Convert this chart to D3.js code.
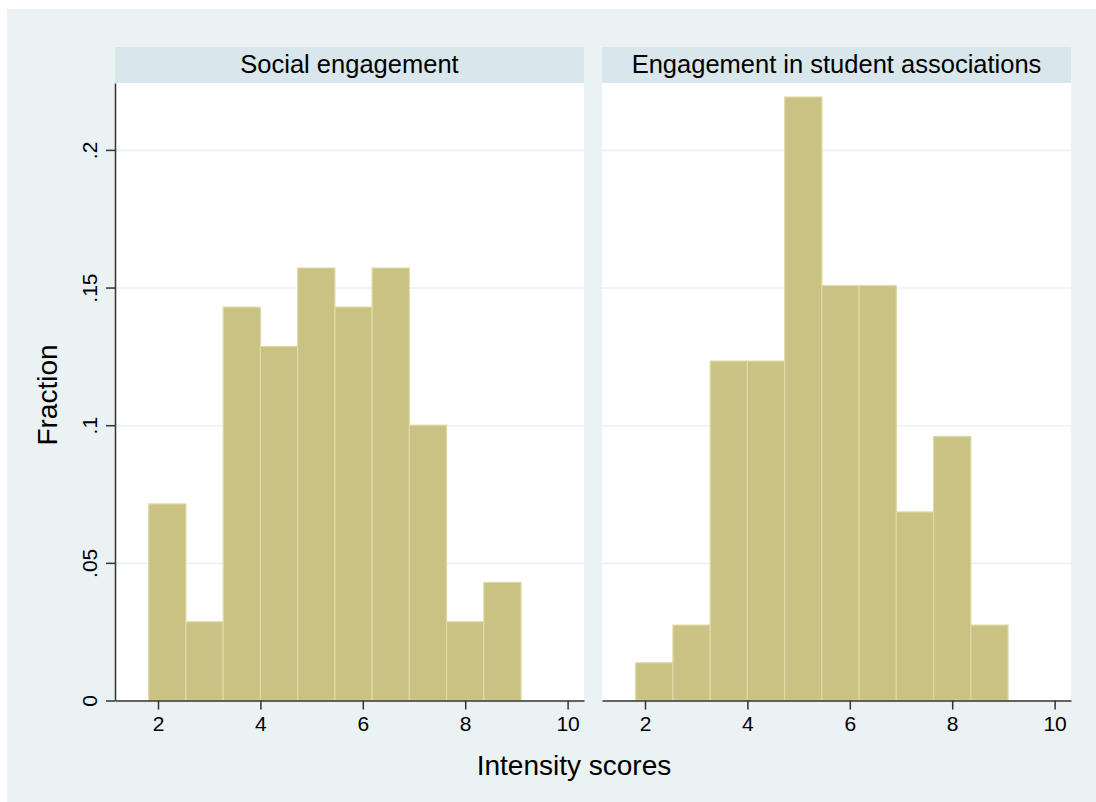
<!DOCTYPE html>
<html>
<head>
<meta charset="utf-8">
<script src="https://cdn.jsdelivr.net/npm/d3@7"></script>
<style>
  html, body { margin: 0; padding: 0; background: #ffffff; }
  svg { display: block; font-family: "Liberation Sans", Arial, sans-serif; }
</style>
</head>
<body>
<svg id="chart" width="1096" height="802"></svg>
<script>
// ---- Data ----
const binEdges = [1.818, 2.545, 3.273, 4.0, 4.727, 5.455, 6.182, 6.909, 7.636, 8.364, 9.091];
const panelTitles = ["Social engagement", "Engagement in student associations"];
const socialFraction = [0.0714, 0.0286, 0.1429, 0.1286, 0.1571, 0.1429, 0.1571, 0.1000, 0.0286, 0.0429];
const assocFraction = [0.0137, 0.0274, 0.1233, 0.1233, 0.2192, 0.1507, 0.1507, 0.0685, 0.0959, 0.0274];
const xTicks = [2, 4, 6, 8, 10];
const yTicks = [0, 0.05, 0.1, 0.15, 0.2];
const yTickLabels = ["0", ".05", ".1", ".15", ".2"];
const xTitle = "Intensity scores";
const yTitle = "Fraction";

// ---- Layout ----
const svg = d3.select("#chart");
const bgColor = "#EAF2F3";
const headerColor = "#D9E6EB";
const barFill = "#C9C282";
const barStroke = "#DEDAA8";
const axisColor = "#333333";
const plotTop = 83, plotBottom = 700.5, headerTop = 47;
const panels = [
  { x0: 115, x1: 584, values: socialFraction, title: panelTitles[0], yAxis: true },
  { x0: 602, x1: 1071, values: assocFraction, title: panelTitles[1], yAxis: false }
];

svg.append("rect").attr("x", 7).attr("y", 9).attr("width", 1089).attr("height", 793).attr("fill", bgColor);

const y = d3.scaleLinear().domain([0, 0.2243]).range([plotBottom, plotTop]);

panels.forEach(p => {
  const x = d3.scaleLinear().domain([1.16, 10.32]).range([p.x0, p.x1]);
  const g = svg.append("g");

  // header
  g.append("rect").attr("x", p.x0).attr("y", headerTop).attr("width", p.x1 - p.x0)
    .attr("height", plotTop - headerTop).attr("fill", headerColor);
  g.append("text").attr("x", (p.x0 + p.x1) / 2).attr("y", 73).attr("text-anchor", "middle")
    .attr("font-size", 25.5).attr("fill", "#000").text(p.title);

  // plot area
  g.append("rect").attr("x", p.x0).attr("y", plotTop).attr("width", p.x1 - p.x0)
    .attr("height", plotBottom - plotTop).attr("fill", "#ffffff");

  // grid lines
  const grid = g.append("g").attr("transform", `translate(${p.x0},0)`)
    .call(d3.axisLeft(y).tickValues(yTicks.filter(v => v > 0)).tickSize(-(p.x1 - p.x0)).tickFormat(""));
  grid.select(".domain").remove();
  grid.selectAll("line").attr("stroke", bgColor).attr("stroke-width", 1.6);

  // bars
  g.append("g").selectAll("rect").data(p.values).join("rect")
    .attr("x", (d, i) => x(binEdges[i]))
    .attr("width", (d, i) => x(binEdges[i + 1]) - x(binEdges[i]))
    .attr("y", d => y(d))
    .attr("height", d => y(0) - y(d))
    .attr("fill", barFill)
    .attr("stroke", barStroke)
    .attr("stroke-width", 1.2);

  // x axis
  const xa = g.append("g").attr("transform", `translate(0,${plotBottom})`)
    .call(d3.axisBottom(x).tickValues(xTicks).tickSize(9).tickSizeOuter(0).tickPadding(7).tickFormat(d3.format("d")));
  xa.select(".domain").attr("stroke", axisColor).attr("stroke-width", 1.5);
  xa.selectAll(".tick line").attr("stroke", axisColor).attr("stroke-width", 1.5);
  xa.selectAll("text").attr("font-size", 21).attr("fill", "#000").attr("font-family", "Liberation Sans, Arial, sans-serif");

  if (p.yAxis) {
    const ya = g.append("g").attr("transform", `translate(${p.x0},0)`)
      .call(d3.axisLeft(y).tickValues(yTicks).tickSize(9).tickSizeOuter(0).tickFormat((d, i) => yTickLabels[i]));
    ya.select(".domain").attr("stroke", axisColor).attr("stroke-width", 1.5);
    ya.selectAll(".tick line").attr("stroke", axisColor).attr("stroke-width", 1.5);
    ya.selectAll("text")
      .attr("font-size", 21).attr("fill", "#000").attr("font-family", "Liberation Sans, Arial, sans-serif")
      .attr("x", null).attr("dy", null)
      .attr("text-anchor", "middle")
      .attr("transform", "translate(-18,0) rotate(-90)");
  }
});

// axis titles
svg.append("text").attr("x", 574).attr("y", 775).attr("text-anchor", "middle")
  .attr("font-size", 28).attr("fill", "#000").text(xTitle);
svg.append("text").attr("transform", "translate(57,395) rotate(-90)").attr("text-anchor", "middle")
  .attr("font-size", 28).attr("fill", "#000").text(yTitle);
</script>
</body>
</html>
